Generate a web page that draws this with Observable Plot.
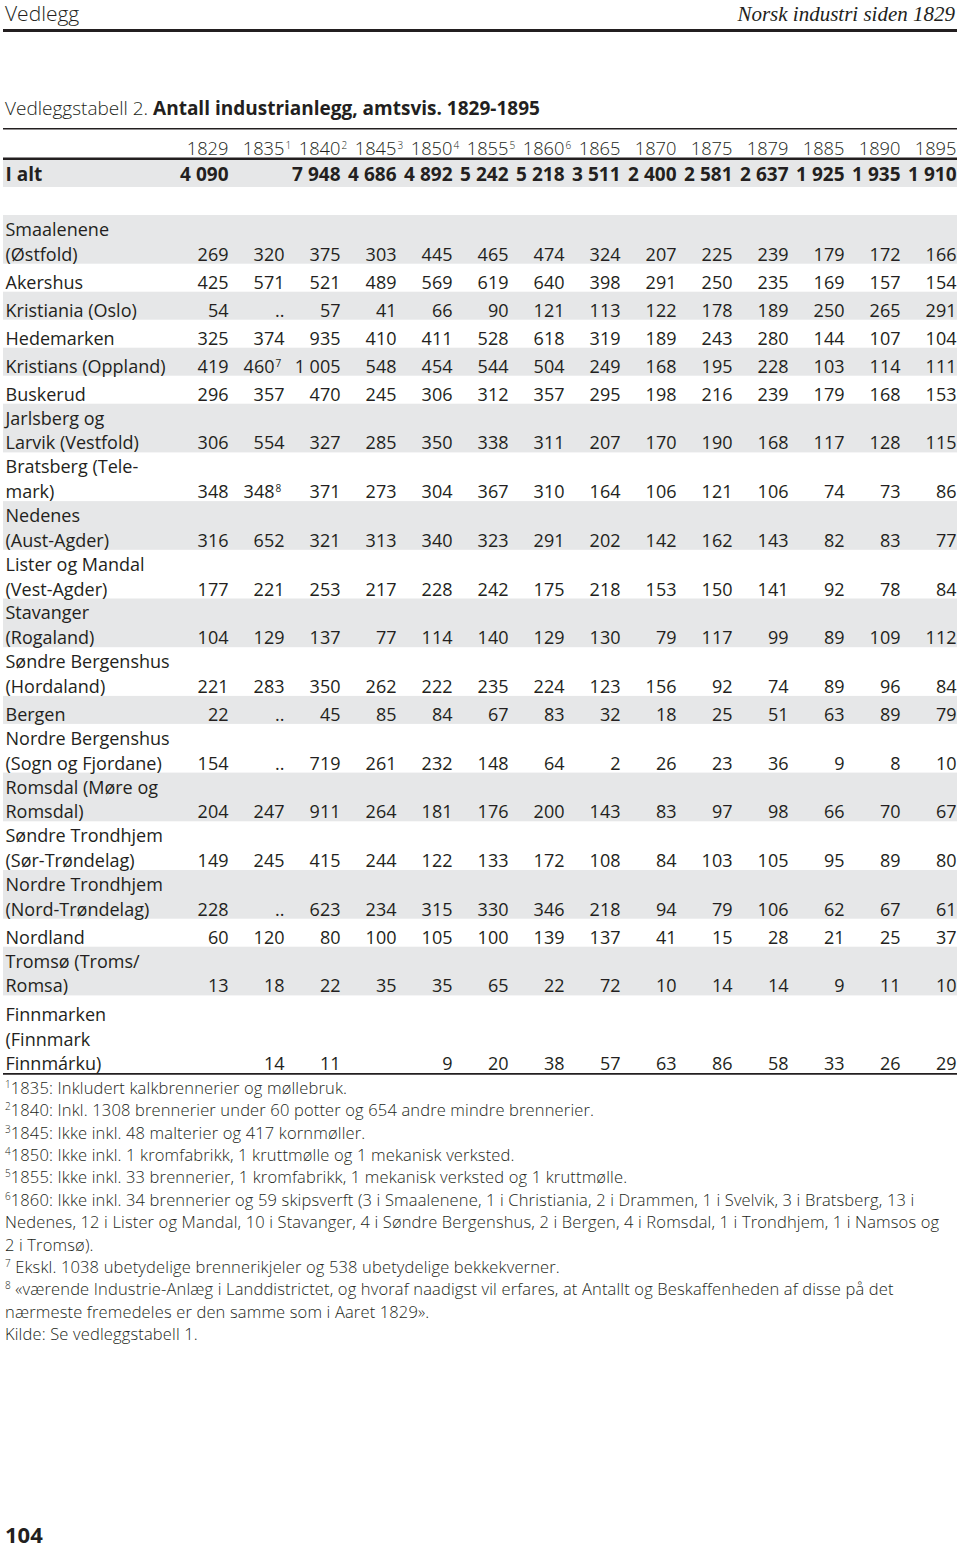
<!DOCTYPE html>
<html>
<head>
<meta charset="utf-8">
<script src="https://cdn.jsdelivr.net/npm/d3@7"></script>
<script src="https://cdn.jsdelivr.net/npm/@observablehq/plot@0.6"></script>
<style>
html,body{margin:0;padding:0;background:#fff;}
body{width:960px;height:1546px;position:relative;overflow:hidden;color:#231f20;font-family:"Open Sans",sans-serif;}
.abs{position:absolute;white-space:nowrap;}
#vedlegg{left:5px;top:3.3px;font-size:21px;line-height:21px;font-weight:300;}
#book{right:5px;top:4px;font-family:"Liberation Serif","DejaVu Serif",serif;font-style:italic;font-size:21px;line-height:21px;}
#toprule{left:3px;top:29px;width:954px;height:3px;background:#231f20;}
#title{left:5px;top:99.6px;font-size:19px;line-height:16px;}
#title .light{font-weight:300;}
#title b{font-weight:700;}
#chart{left:0;top:118px;}
#notes{left:5px;top:1076.9px;font-family:"Open Sans",sans-serif;font-weight:300;font-size:16.5px;letter-spacing:0.15px;line-height:22.4px;}
#notes div{height:22.4px;}
#notes sup{font-size:10px;vertical-align:baseline;position:relative;top:-6px;line-height:0;letter-spacing:0;}
#page{left:5px;top:1522.5px;font-size:22px;line-height:22px;font-weight:700;}
</style>
</head>
<body>
<div id="vedlegg" class="abs">Vedlegg</div>
<div id="book" class="abs">Norsk industri siden 1829</div>
<div id="toprule" class="abs"></div>
<div id="title" class="abs"><span class="light">Vedleggstabell 2. </span><b>Antall industrianlegg, amtsvis. 1829-1895</b></div>
<div id="chart" class="abs"></div>
<div id="notes" class="abs"></div>
<div id="page" class="abs">104</div>
<script>
// ---------- data ----------
const _ = undefined;   // empty cell
const NA = null;       // ".." (not available)

const years = ["1829","1835","1840","1845","1850","1855","1860","1865","1870","1875","1879","1885","1890","1895"];
const headerNotes = [
  {year: "1835", note: "1"}, {year: "1840", note: "2"}, {year: "1845", note: "3"},
  {year: "1850", note: "4"}, {year: "1855", note: "5"}, {year: "1860", note: "6"}
];
const totalLabel = "I alt";
const totals = [4090, _, 7948, 4686, 4892, 5242, 5218, 3511, 2400, 2581, 2637, 1925, 1935, 1910];

const counties = [
  ["Smaalenene", "(Østfold)"],
  ["Akershus"],
  ["Kristiania (Oslo)"],
  ["Hedemarken"],
  ["Kristians (Oppland)"],
  ["Buskerud"],
  ["Jarlsberg og", "Larvik (Vestfold)"],
  ["Bratsberg (Tele-", "mark)"],
  ["Nedenes", "(Aust-Agder)"],
  ["Lister og Mandal", "(Vest-Agder)"],
  ["Stavanger", "(Rogaland)"],
  ["Søndre Bergenshus", "(Hordaland)"],
  ["Bergen"],
  ["Nordre Bergenshus", "(Sogn og Fjordane)"],
  ["Romsdal (Møre og", "Romsdal)"],
  ["Søndre Trondhjem", "(Sør-Trøndelag)"],
  ["Nordre Trondhjem", "(Nord-Trøndelag)"],
  ["Nordland"],
  ["Tromsø (Troms/", "Romsa)"],
  ["Finnmarken", "(Finnmark", "Finnmárku)"]
];

const counts = [
  [269, 320, 375, 303, 445, 465, 474, 324, 207, 225, 239, 179, 172, 166],
  [425, 571, 521, 489, 569, 619, 640, 398, 291, 250, 235, 169, 157, 154],
  [54, NA, 57, 41, 66, 90, 121, 113, 122, 178, 189, 250, 265, 291],
  [325, 374, 935, 410, 411, 528, 618, 319, 189, 243, 280, 144, 107, 104],
  [419, 460, 1005, 548, 454, 544, 504, 249, 168, 195, 228, 103, 114, 111],
  [296, 357, 470, 245, 306, 312, 357, 295, 198, 216, 239, 179, 168, 153],
  [306, 554, 327, 285, 350, 338, 311, 207, 170, 190, 168, 117, 128, 115],
  [348, 348, 371, 273, 304, 367, 310, 164, 106, 121, 106, 74, 73, 86],
  [316, 652, 321, 313, 340, 323, 291, 202, 142, 162, 143, 82, 83, 77],
  [177, 221, 253, 217, 228, 242, 175, 218, 153, 150, 141, 92, 78, 84],
  [104, 129, 137, 77, 114, 140, 129, 130, 79, 117, 99, 89, 109, 112],
  [221, 283, 350, 262, 222, 235, 224, 123, 156, 92, 74, 89, 96, 84],
  [22, NA, 45, 85, 84, 67, 83, 32, 18, 25, 51, 63, 89, 79],
  [154, NA, 719, 261, 232, 148, 64, 2, 26, 23, 36, 9, 8, 10],
  [204, 247, 911, 264, 181, 176, 200, 143, 83, 97, 98, 66, 70, 67],
  [149, 245, 415, 244, 122, 133, 172, 108, 84, 103, 105, 95, 89, 80],
  [228, NA, 623, 234, 315, 330, 346, 218, 94, 79, 106, 62, 67, 61],
  [60, 120, 80, 100, 105, 100, 139, 137, 41, 15, 28, 21, 25, 37],
  [13, 18, 22, 35, 35, 65, 22, 72, 10, 14, 14, 9, 11, 10],
  [_, 14, 11, _, 9, 20, 38, 57, 63, 86, 58, 33, 26, 29]
];

const cellNotes = [
  {county: "Kristians (Oppland)", year: "1835", note: "7"},
  {county: "Bratsberg (Tele-", year: "1835", note: "8"}
];

const footnotes = [
  ["1", "1835: Inkludert kalkbrennerier og møllebruk."],
  ["2", "1840: Inkl. 1308 brennerier under 60 potter og 654 andre mindre brennerier."],
  ["3", "1845: Ikke inkl. 48 malterier og 417 kornmøller."],
  ["4", "1850: Ikke inkl. 1 kromfabrikk, 1 kruttmølle og 1 mekanisk verksted."],
  ["5", "1855: Ikke inkl. 33 brennerier, 1 kromfabrikk, 1 mekanisk verksted og 1 kruttmølle."],
  ["6", "1860: Ikke inkl. 34 brennerier og 59 skipsverft (3 i Smaalenene, 1 i Christiania, 2 i Drammen, 1 i Svelvik, 3 i Bratsberg, 13 i"],
  ["", "Nedenes, 12 i Lister og Mandal, 10 i Stavanger, 4 i Søndre Bergenshus, 2 i Bergen, 4 i Romsdal, 1 i Trondhjem, 1 i Namsos og"],
  ["", "2 i Tromsø)."],
  ["7", " Ekskl. 1038 ubetydelige brennerikjeler og 538 ubetydelige bekkekverner."],
  ["8", " «værende Industrie-Anlæg i Landdistrictet, og hvoraf naadigst vil erfares, at Antallt og Beskaffenheden af disse på det"],
  ["", "nærmeste fremedeles er den samme som i Aaret 1829»."],
  ["", "Kilde: Se vedleggstabell 1."]
];

// ---------- layout ----------
const ink = "#231f20", shade = "#e6e7e8";
const TOP = 118, BOTTOM = 1080;
const rowHeight = {1: 28, 2: 48.7, 3: 78};
let cursor = 215;
const rows = counties.map((lines, i) => {
  const top = cursor;
  cursor += rowHeight[lines.length];
  return {i, key: lines[0], label: lines.join("\n"), top, bottom: cursor, baseline: cursor - 3.5, shaded: i % 2 === 0};
});
const fmt = v => v >= 1000 ? `${Math.floor(v / 1000)} ${String(v % 1000).padStart(3, "0")}` : String(v);
const cells = rows.flatMap((r, i) => years.map((year, j) => {
  const v = counts[i][j];
  if (v === undefined) return null;
  const n = cellNotes.find(c => c.county === r.key && c.year === year);
  return {year, baseline: r.baseline, text: v === null ? ".." : fmt(v), note: n ? n.note : null};
}).filter(Boolean));
const totalCells = years.map((year, j) => ({year, v: totals[j]})).filter(d => d.v !== undefined)
  .map(d => ({year: d.year, text: fmt(d.v)}));

const headerBase = 154, totalBase = 180.5;

const chart = Plot.plot({
  width: 960,
  height: BOTTOM - TOP,
  marginTop: 0, marginBottom: 0, marginLeft: 3, marginRight: 3,
  x: {type: "point", domain: years, range: [227, 956], padding: 0, axis: null},
  y: {type: "linear", domain: [TOP, BOTTOM], range: [0, BOTTOM - TOP], axis: null},
  style: {fontFamily: "'Open Sans', sans-serif", fontSize: "18px", color: ink, background: "transparent", overflow: "visible"},
  marks: [
    Plot.rect(rows.filter(r => r.shaded), {y1: "top", y2: "bottom", fill: shade}),
    Plot.rect([{top: 160, bottom: 187}], {y1: "top", y2: "bottom", fill: shade}),
    Plot.ruleY([128.3], {stroke: ink, strokeWidth: 1.5}),
    Plot.ruleY([158.3], {stroke: ink, strokeWidth: 2.6}),
    Plot.ruleY([1073.3], {stroke: ink, strokeWidth: 1.8}),
    // column headers
    Plot.text(years, {x: d => d, y: () => headerBase, text: d => d, textAnchor: "end", lineAnchor: "bottom", fontSize: 18.3, fontWeight: 300}),
    Plot.text(headerNotes, {x: "year", y: () => headerBase - 5.5, text: "note", textAnchor: "start", lineAnchor: "bottom", fontSize: 10, fontWeight: 300, dx: 1}),
    // totals
    Plot.text([totalLabel], {frameAnchor: "left", y: () => totalBase, text: d => d, textAnchor: "start", lineAnchor: "bottom", fontSize: 19, fontWeight: 700, dx: 2}),
    Plot.text(totalCells, {x: "year", y: () => totalBase, text: "text", textAnchor: "end", lineAnchor: "bottom", fontSize: 19, fontWeight: 700}),
    // county labels
    Plot.text(rows, {frameAnchor: "left", y: "baseline", text: "label", textAnchor: "start", lineAnchor: "bottom", lineHeight: 1.375, fontSize: 18, dx: 2}),
    // values
    Plot.text(cells.filter(c => !c.note), {x: "year", y: "baseline", text: "text", textAnchor: "end", lineAnchor: "bottom", fontSize: 18}),
    Plot.text(cells.filter(c => c.note), {x: "year", y: "baseline", text: "text", textAnchor: "end", lineAnchor: "bottom", fontSize: 18, dx: -10}),
    Plot.text(cells.filter(c => c.note), {x: "year", y: d => d.baseline - 6, text: "note", textAnchor: "start", lineAnchor: "bottom", fontSize: 10, dx: -9})
  ]
});
document.getElementById("chart").appendChild(chart);

const notes = document.getElementById("notes");
for (const [sup, text] of footnotes) {
  const div = document.createElement("div");
  if (sup) {
    const s = document.createElement("sup");
    s.textContent = sup;
    div.appendChild(s);
  }
  div.appendChild(document.createTextNode(text));
  notes.appendChild(div);
}
</script>
</body>
</html>
